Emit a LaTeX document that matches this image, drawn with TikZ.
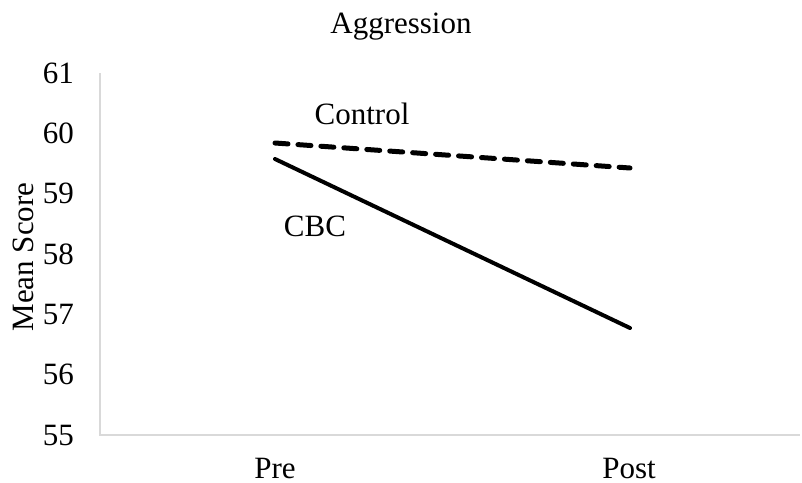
\documentclass[tikz,border=0pt]{standalone}
\usepackage{fontspec}
\setmainfont{Liberation Serif}
\begin{document}
\begin{tikzpicture}[x=1pt,y=-1pt,
  lbl/.style={inner sep=0pt,font=\fontsize{31}{36}\selectfont},
  axisline/.style={draw={rgb,255:red,217;green,217;blue,217},line width=1.2pt},
  ctrl/.style={line width=5pt,line cap=round,dash pattern=on 13pt off 10pt},
  cbc/.style={line width=4pt,line cap=round}]
\useasboundingbox (0,0) rectangle (802,482);
% axes
\coordinate (o) at (100,435);
\coordinate (top) at (100,73);
\coordinate (xe) at (800,435);
\draw[axisline] (top) -- (o) -- (xe);
% tick labels
\foreach \v [count=\i from 0] in {55,56,57,58,59,60,61}
  \node[lbl,anchor=east] (t\v) at (74,{435-\i*60.33}) {\v};
\node[lbl,rotate=90] (ylab) at (23,257) {Mean Score};
\node[lbl] (title) at (401,27) {Aggression};
\node[lbl] (pre) at (275,468) {Pre};
\node[lbl] (post) at (629,468) {Post};
% data
\coordinate (c1) at (275,143);
\coordinate (c2) at (630,168);
\coordinate (b1) at (275,159);
\coordinate (b2) at (630,328);
\draw[ctrl] (c1) -- (c2);
\draw[cbc] (b1) -- (b2);
\node[lbl] (lc) at (362,114) {Control};
\node[lbl] (lb) at (315,226) {CBC};
\end{tikzpicture}
\end{document}
